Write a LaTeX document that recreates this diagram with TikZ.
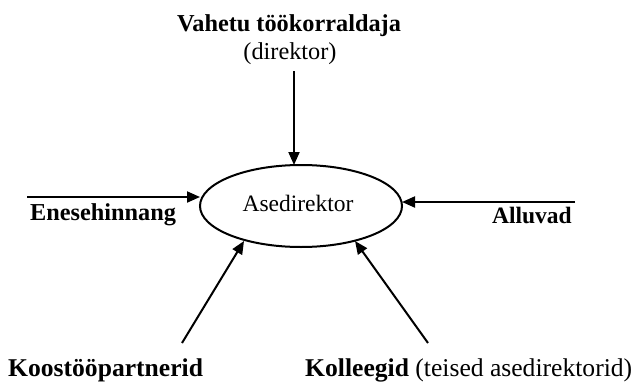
\documentclass[tikz,border=0pt]{standalone}
\usepackage{fontspec}
\setmainfont{Liberation Serif}
\usetikzlibrary{arrows.meta,shapes.geometric}
\begin{document}
\begin{tikzpicture}[x=1pt,y=-1pt,
  lbl/.style={inner sep=0pt,anchor=base,font=\fontsize{23.5}{26}\selectfont},
  lblm/.style={lbl,font=\fontsize{24.3}{27}\selectfont},
  lblb/.style={lbl,font=\fontsize{25.6}{28}\selectfont},
  conn/.style={line width=2pt,-{Triangle[length=13pt,width=11pt]}},
  ell/.style={ellipse,draw,line width=2pt,minimum width=202pt,minimum height=82pt,inner sep=0pt}]
\useasboundingbox (0,0) rectangle (637,388);
\node[ell] (c) at (301,206) {};
\node[lbl] (ct) at (298,211) {Asedirektor};
\node[lblm] (top) at (289,31) {\bfseries Vahetu töökorraldaja};
\node[lblm] (top2) at (290,59) {(direktor)};
\node[lblm,anchor=base west] (left) at (30,220) {\bfseries Enesehinnang};
\node[lbl,anchor=base east] (right) at (572,223) {\bfseries Alluvad};
\node[lblb,anchor=base west] (bl) at (8,376) {\bfseries Koostööpartnerid};
\node[lblb,anchor=base west] (br) at (305,376) {\bfseries Kolleegid \mdseries(teised asedirektorid)};
\coordinate (s1) at (294,71);
\coordinate (e1) at (294,165);
\coordinate (s2) at (27,197);
\coordinate (e2) at (200,197);
\coordinate (s3) at (575,202);
\coordinate (e3) at (402,202);
\coordinate (s4) at (182,343);
\coordinate (e4) at (244,241);
\coordinate (s5) at (428,343);
\coordinate (e5) at (355,241);
\draw[conn] (s1) -- (e1);
\draw[conn] (s2) -- (e2);
\draw[conn] (s3) -- (e3);
\draw[conn] (s4) -- (e4);
\draw[conn] (s5) -- (e5);
\end{tikzpicture}
\end{document}
